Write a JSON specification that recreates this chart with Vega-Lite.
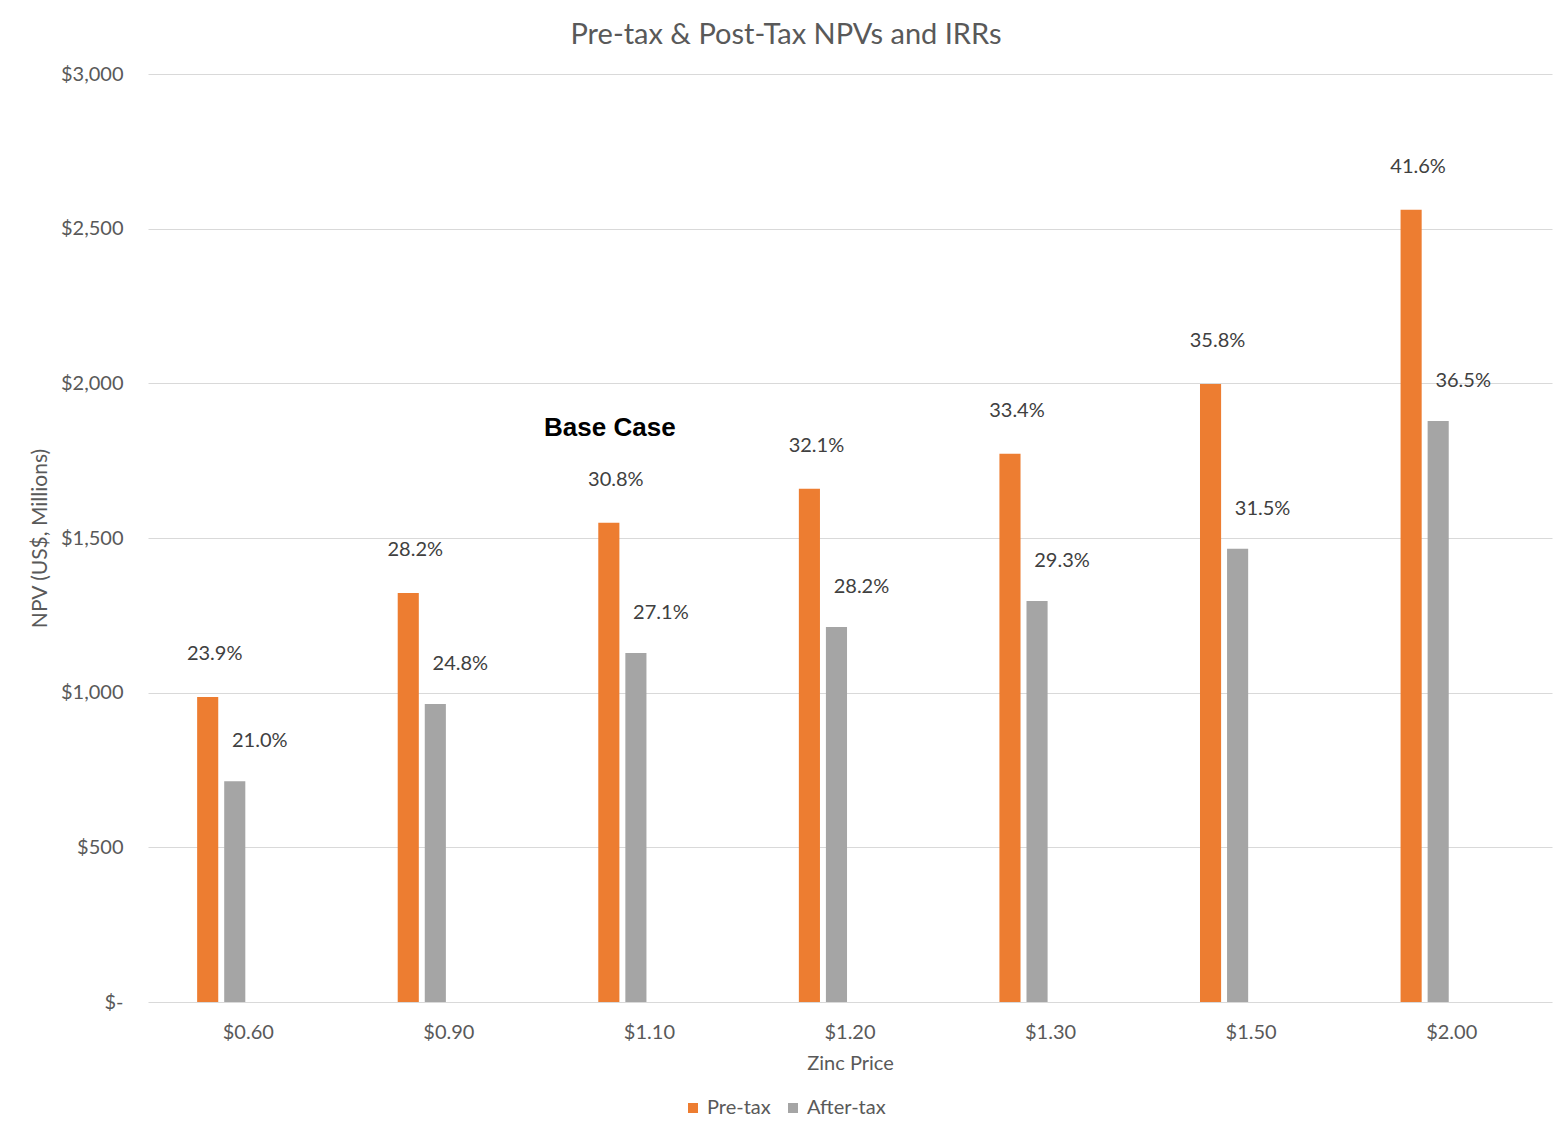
{
  "$schema": "https://vega.github.io/schema/vega-lite/v6.json",
  "width": 1404,
  "height": 928,
  "autosize": {"type": "none"},
  "padding": {"left": 148, "top": 74, "right": 7, "bottom": 127},
  "background": "white",
  "title": {
    "text": "Pre-tax & Post-Tax NPVs and IRRs",
    "font": "Lato",
    "fontSize": 29,
    "fontWeight": "normal",
    "color": "#595959",
    "anchor": "middle",
    "dx": -64,
    "offset": 14
  },
  "config": {
    "view": {"stroke": null},
    "font": "Lato"
  },
  "data": {
    "values": [
      {"price": "$0.60", "type": "Pre-tax", "npv": 986, "irr": 0.239},
      {"price": "$0.60", "type": "After-tax", "npv": 714, "irr": 0.21},
      {"price": "$0.90", "type": "Pre-tax", "npv": 1322, "irr": 0.282},
      {"price": "$0.90", "type": "After-tax", "npv": 963, "irr": 0.248},
      {"price": "$1.10", "type": "Pre-tax", "npv": 1549, "irr": 0.308},
      {"price": "$1.10", "type": "After-tax", "npv": 1128, "irr": 0.271},
      {"price": "$1.20", "type": "Pre-tax", "npv": 1659, "irr": 0.321},
      {"price": "$1.20", "type": "After-tax", "npv": 1212, "irr": 0.282},
      {"price": "$1.30", "type": "Pre-tax", "npv": 1772, "irr": 0.334},
      {"price": "$1.30", "type": "After-tax", "npv": 1296, "irr": 0.293},
      {"price": "$1.50", "type": "Pre-tax", "npv": 1998, "irr": 0.358},
      {"price": "$1.50", "type": "After-tax", "npv": 1465, "irr": 0.315},
      {"price": "$2.00", "type": "Pre-tax", "npv": 2561, "irr": 0.416},
      {"price": "$2.00", "type": "After-tax", "npv": 1878, "irr": 0.365}
    ]
  },
  "encoding": {
    "x": {
      "field": "price",
      "type": "nominal",
      "sort": null,
      "scale": {"paddingInner": 0.49, "paddingOuter": 0.245},
      "axis": {
        "title": "Zinc Price",
        "titleFont": "Lato",
        "titleFontSize": 20,
        "titleFontWeight": "normal",
        "titleColor": "#595959",
        "titlePadding": 11,
        "labelAngle": 0,
        "labelFontSize": 20,
        "labelColor": "#595959",
        "labelPadding": 20,
        "ticks": false,
        "domain": false,
        "grid": false
      }
    },
    "xOffset": {
      "field": "type",
      "type": "nominal",
      "scale": {"domain": ["Pre-tax", "After-tax", "IRR pre", "IRR post"], "paddingInner": 0.22, "paddingOuter": 0}
    },
    "y": {
      "field": "npv",
      "type": "quantitative",
      "scale": {"domain": [0, 3000], "nice": false},
      "axis": {
        "title": "NPV (US$, Millions)",
        "titleFont": "Lato",
        "titleFontSize": 21,
        "titleFontWeight": "normal",
        "titleColor": "#595959",
        "titlePadding": 10,
        "values": [0, 500, 1000, 1500, 2000, 2500, 3000],
        "labelExpr": "datum.value == 0 ? '$-' : '$' + format(datum.value, ',')",
        "labelFontSize": 20,
        "labelColor": "#595959",
        "labelPadding": 25,
        "ticks": false,
        "domain": false,
        "grid": true,
        "gridColor": "#D9D9D9",
        "gridWidth": 1
      }
    }
  },
  "layer": [
    {
      "mark": {"type": "bar"},
      "encoding": {
        "color": {
          "field": "type",
          "type": "nominal",
          "scale": {"domain": ["Pre-tax", "After-tax"], "range": ["#ED7D31", "#A5A5A5"]},
          "legend": {
            "title": null,
            "orient": "none",
            "legendX": 535,
            "legendY": 1024,
            "direction": "horizontal",
            "symbolType": "square",
            "symbolSize": 100,
            "symbolStrokeWidth": 0,
            "labelFontSize": 20,
            "labelColor": "#595959",
            "labelOffset": 4,
            "columnPadding": 12
          }
        }
      }
    },
    {
      "transform": [{"filter": "datum.type == 'Pre-tax'"}],
      "mark": {"type": "text", "dx": 7, "dy": -43, "baseline": "middle", "align": "center", "fontSize": 20, "color": "#404040"},
      "encoding": {"text": {"field": "irr", "type": "quantitative", "format": ".1%"}}
    },
    {
      "transform": [{"filter": "datum.type == 'After-tax'"}],
      "mark": {"type": "text", "dx": 25, "dy": -40, "baseline": "middle", "align": "center", "fontSize": 20, "color": "#404040"},
      "encoding": {"text": {"field": "irr", "type": "quantitative", "format": ".1%"}}
    },
    {
      "transform": [{"filter": "datum.price == '$1.10' && datum.type == 'Pre-tax'"}],
      "mark": {"type": "text", "text": "Base Case", "dx": 1, "dy": -95, "baseline": "middle", "align": "center", "font": "Liberation Sans", "fontWeight": "bold", "fontSize": 26, "color": "#000000"},
      "encoding": {}
    }
  ]
}
